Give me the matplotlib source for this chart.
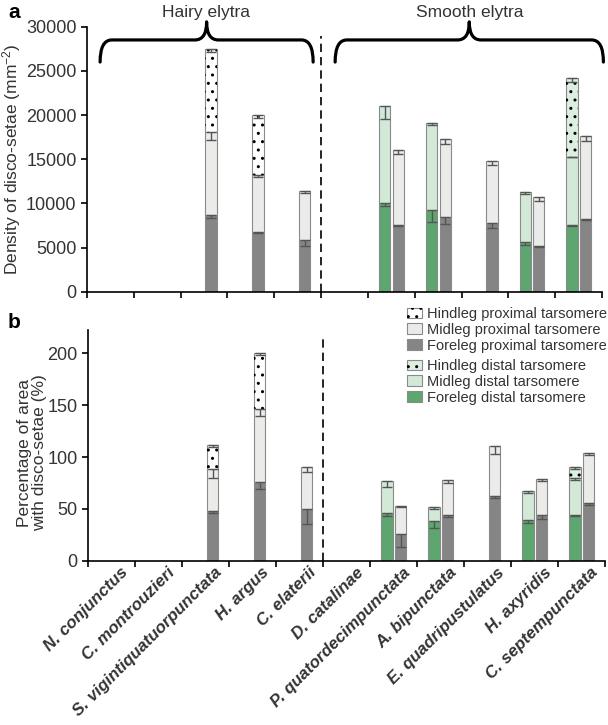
import numpy as np
import matplotlib.pyplot as plt
from matplotlib.patches import Patch, PathPatch
from matplotlib.path import Path
from matplotlib.legend_handler import HandlerTuple
from matplotlib.transforms import ScaledTranslation, blended_transform_factory

plt.rcParams["font.family"] = ["Liberation Sans", "DejaVu Sans"]
plt.rcParams["mathtext.fontset"] = "custom"
plt.rcParams["mathtext.rm"] = "Liberation Sans"
plt.rcParams["mathtext.it"] = "Liberation Sans:italic"
plt.rcParams["hatch.linewidth"] = 1.0

species = ["N. conjunctus", "C. montrouzieri", "S. vigintiquatuorpunctata",
           "H. argus", "C. elaterii", "D. catalinae", "P. quatordecimpunctata",
           "A. bipunctata", "E. quadripustulatus", "H. axyridis", "C. septempunctata"]
nan = np.nan

# panel a: density of disco-setae (mm^-2), segment values
fore_prox_den = [nan, nan, 8700, 6800, 5800, nan, 7500, 8500, 7800, 5200, 8200]
mid_prox_den = [nan, nan, 9400, 6400, 5600, nan, 8500, 8800, 7000, 5500, 9400]
hind_prox_den = [nan, nan, 9350, 6800, nan, nan, nan, nan, nan, nan, nan]
fore_dist_den = [nan, nan, nan, nan, nan, nan, 10000, 9200, nan, 5600, 7500]
mid_dist_den = [nan, nan, nan, nan, nan, nan, 11000, 9900, nan, 5700, 7800]
hind_dist_den = [nan, nan, nan, nan, nan, nan, nan, nan, nan, nan, 8900]
fore_prox_den_err = [nan, nan, 400, 150, 600, nan, 100, 850, 550, 100, 100]
mid_prox_den_err = [nan, nan, 950, 200, 250, nan, 450, 550, 500, 400, 550]
hind_prox_den_err = [nan, nan, 300, 350, nan, nan, nan, nan, nan, nan, nan]
fore_dist_den_err = [nan, nan, nan, nan, nan, nan, 350, 1280, nan, 350, 100]
mid_dist_den_err = [nan, nan, nan, nan, nan, nan, 1500, 200, nan, 200, 100]
hind_dist_den_err = [nan, nan, nan, nan, nan, nan, nan, nan, nan, nan, 450]

# panel b: percentage of area with disco-setae (%), segment values
fore_prox_pct = [nan, nan, 48, 75.5, 50, nan, 25.5, 44, 62, 44.5, 56]
mid_prox_pct = [nan, nan, 40.5, 70.5, 40, nan, 27.5, 34, 49, 34, 48]
hind_prox_pct = [nan, nan, 23.5, 54, nan, nan, nan, nan, nan, nan, nan]
fore_dist_pct = [nan, nan, nan, nan, nan, nan, 46, 38, nan, 39.5, 44.5]
mid_dist_pct = [nan, nan, nan, nan, nan, nan, 31, 14, nan, 27.5, 35.5]
hind_dist_pct = [nan, nan, nan, nan, nan, nan, nan, nan, nan, nan, 10]
fore_prox_pct_err = [nan, nan, 2, 6, 15, nan, 12, 2, 1.5, 4, 2]
mid_prox_pct_err = [nan, nan, 9, 6, 4.5, nan, 1.6, 3, 7.7, 2, 2]
hind_prox_pct_err = [nan, nan, 2, 2, nan, nan, nan, nan, nan, nan, nan]
fore_dist_pct_err = [nan, nan, nan, nan, nan, nan, 2.6, 6, nan, 3.5, 1.5]
mid_dist_pct_err = [nan, nan, nan, nan, nan, nan, 5.8, 2, nan, 2, 2.6]
hind_dist_pct_err = [nan, nan, nan, nan, nan, nan, nan, nan, nan, nan, 2]

c_fore_prox = "#858585"
c_mid_prox = "#ebecea"
c_hind_prox = "#ffffff"
c_fore_dist = "#5da66f"
c_mid_dist = "#d3e9d8"
c_hind_dist = "#dcefe1"
edge = "#8a8a8a"
txt = "#333333"

x = np.arange(len(species))
width = 0.24
off_dist = -0.14
off_prox = 0.15


def stack(ax, offset, segs, errs, colors, hatched):
    bottom = np.zeros(len(x))
    for vals, err, col, h in zip(segs, errs, colors, hatched):
        v = np.array(vals, float)
        ax.bar(x + offset, v, width, bottom=bottom, color=col,
               edgecolor=edge, linewidth=0.8, zorder=2)
        if h:
            ax.bar(x + offset, v, width, bottom=bottom, color="none",
                   edgecolor="black", linewidth=0, hatch="..", zorder=2)
        tops = bottom + v
        e = np.array(err, float)
        ax.errorbar(x + offset, tops, yerr=[e, np.zeros_like(e)], fmt="none",
                    ecolor="#555555", elinewidth=1.0, capsize=3.5,
                    capthick=1.0, zorder=3)
        bottom = np.where(np.isnan(v), bottom, tops)


def style(ax):
    for s in ["top", "right"]:
        ax.spines[s].set_visible(False)
    for s in ["left", "bottom"]:
        ax.spines[s].set_linewidth(1.2)
    ax.set_xlim(-0.5, 10.5)
    ax.set_xticks(np.arange(-0.5, 11, 1))
    ax.set_xticklabels([])
    ax.tick_params(axis="both", which="major", direction="out", length=4,
                   width=1.2, labelsize=13, labelcolor=txt)


def brace(ax, x0, x1, y_bot, y_mid, y_top, dx):
    xm = (x0 + x1) / 2
    verts = [(x0, y_bot), (x0, y_mid), (x0 + dx, y_mid), (xm - dx, y_mid),
             (xm, y_mid), (xm, y_top), (xm, y_mid), (xm + dx, y_mid),
             (x1 - dx, y_mid), (x1, y_mid), (x1, y_bot)]
    codes = [Path.MOVETO, Path.CURVE3, Path.CURVE3, Path.LINETO,
             Path.CURVE3, Path.CURVE3, Path.CURVE3, Path.CURVE3,
             Path.LINETO, Path.CURVE3, Path.CURVE3]
    ax.add_patch(PathPatch(Path(verts, codes), fill=False, lw=2.3,
                           edgecolor="black", clip_on=False,
                           capstyle="round", joinstyle="round"))


fig = plt.figure(figsize=(6.08, 7.25), dpi=100)
W, H = 608, 725
ax1 = fig.add_axes([87 / W, 1 - 291.7 / H, (602 - 87) / W, (291.7 - 26.7) / H])
ax2 = fig.add_axes([88 / W, 1 - 560.7 / H, (605 - 88) / W, (560.7 - 330) / H])

# panel a
stack(ax1, off_prox, [fore_prox_den, mid_prox_den, hind_prox_den],
      [fore_prox_den_err, mid_prox_den_err, hind_prox_den_err],
      [c_fore_prox, c_mid_prox, c_hind_prox], [False, False, True])
stack(ax1, off_dist, [fore_dist_den, mid_dist_den, hind_dist_den],
      [fore_dist_den_err, mid_dist_den_err, hind_dist_den_err],
      [c_fore_dist, c_mid_dist, c_hind_dist], [False, False, True])
style(ax1)
ax1.set_ylim(0, 30000)
ax1.set_yticks(np.arange(0, 30001, 5000))
ax1.plot([4.5, 4.5], [0, 29000], color="black", lw=1.2, dashes=(5, 3))
brace(ax1, -0.22, 4.33, 26000, 28500, 30550, 0.25)
brace(ax1, 4.8, 10.53, 26000, 28500, 30550, 0.25)
tr = blended_transform_factory(ax1.transData, fig.transFigure)
ax1.text(2.05, 1 - 13 / H, "Hairy elytra", transform=tr, ha="center",
         va="center", fontsize=12.5, color=txt)
ax1.text(7.67, 1 - 13 / H, "Smooth elytra", transform=tr, ha="center",
         va="center", fontsize=12.5, color=txt)

# panel b
stack(ax2, off_prox, [fore_prox_pct, mid_prox_pct, hind_prox_pct],
      [fore_prox_pct_err, mid_prox_pct_err, hind_prox_pct_err],
      [c_fore_prox, c_mid_prox, c_hind_prox], [False, False, True])
stack(ax2, off_dist, [fore_dist_pct, mid_dist_pct, hind_dist_pct],
      [fore_dist_pct_err, mid_dist_pct_err, hind_dist_pct_err],
      [c_fore_dist, c_mid_dist, c_hind_dist], [False, False, True])
style(ax2)
ax2.set_ylim(0, 222.5)
ax2.set_yticks(np.arange(0, 201, 50))
ax2.plot([4.5, 4.5], [0, 215], color="black", lw=1.2, dashes=(5, 3))

ax2.set_xticks(x, species, minor=True)
ax2.tick_params(axis="x", which="minor", length=0, pad=3)
shift = ScaledTranslation(0.09, 0, fig.dpi_scale_trans)
for lbl in ax2.get_xticklabels(minor=True):
    lbl.set_rotation(45)
    lbl.set_rotation_mode("anchor")
    lbl.set_ha("right")
    lbl.set_va("top")
    lbl.set_fontsize(12.2)
    lbl.set_fontweight("bold")
    lbl.set_fontstyle("italic")
    lbl.set_color(txt)
    lbl.set_transform(lbl.get_transform() + shift)

# legend
def hatch_handle(fc):
    return (Patch(facecolor=fc, edgecolor=edge, linewidth=0.8),
            Patch(facecolor="none", edgecolor="black", linewidth=0, hatch=".."))

leg_kw = dict(frameon=False, fontsize=10.5, handlelength=1.05, handleheight=0.75,
              handletextpad=0.3, labelspacing=0.12, borderpad=0, borderaxespad=0,
              loc="upper left", bbox_transform=fig.transFigure,
              handler_map={tuple: HandlerTuple(ndivide=1)}, labelcolor=txt)
h1 = [hatch_handle(c_hind_prox),
      Patch(facecolor=c_mid_prox, edgecolor=edge, linewidth=0.8),
      Patch(facecolor=c_fore_prox, edgecolor=edge, linewidth=0.8)]
l1 = ["Hindleg proximal tarsomere", "Midleg proximal tarsomere",
      "Foreleg proximal tarsomere"]
h2 = [hatch_handle(c_hind_dist),
      Patch(facecolor=c_mid_dist, edgecolor=edge, linewidth=0.8),
      Patch(facecolor=c_fore_dist, edgecolor=edge, linewidth=0.8)]
l2 = ["Hindleg distal tarsomere", "Midleg distal tarsomere",
      "Foreleg distal tarsomere"]
leg1 = ax2.legend(h1, l1, bbox_to_anchor=(407 / W, 1 - 307 / H), **leg_kw)
ax2.add_artist(leg1)
ax2.legend(h2, l2, bbox_to_anchor=(407 / W, 1 - 359 / H), **leg_kw)

# labels
fig.text(12 / W, 1 - 159 / H, "Density of disco-setae (mm$^{-2}$)", rotation=90,
         ha="center", va="center", fontsize=12.5, color=txt)
fig.text(32 / W, 1 - 453 / H, "Percentage of area\nwith disco-setae (%)",
         rotation=90, ha="center", va="center", fontsize=12.5, color=txt,
         linespacing=1.05, multialignment="center")
fig.text(8 / W, 1 - 12 / H, "a", fontsize=15, fontweight="bold", va="center")
fig.text(8 / W, 1 - 322 / H, "b", fontsize=15, fontweight="bold", va="center")

fig.savefig("out.png", dpi=100)
